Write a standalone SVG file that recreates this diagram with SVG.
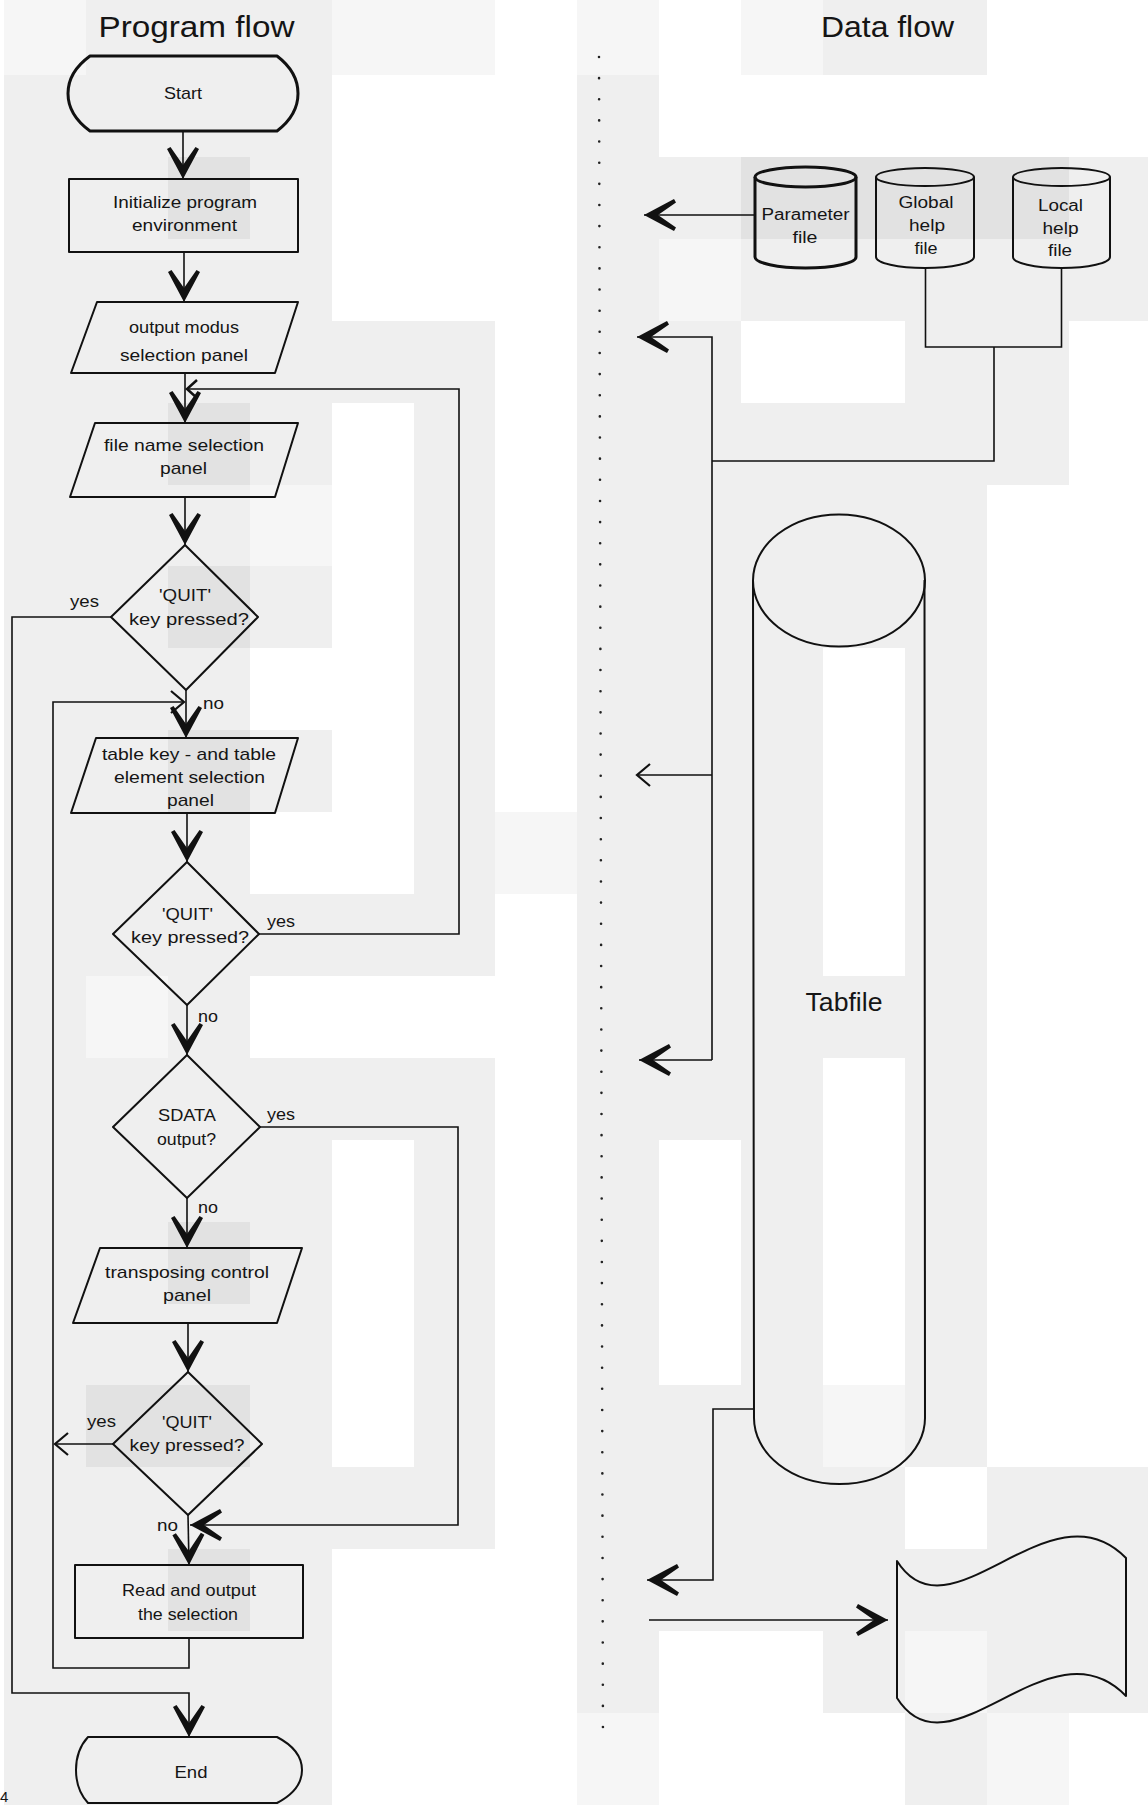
<svg xmlns="http://www.w3.org/2000/svg" width="1148" height="1805" viewBox="0 0 1148 1805">
<style>
.g{fill:#efefef}.d{fill:#e2e2e2}.l{fill:#f6f6f6}
.node{fill:none;stroke:#111;stroke-width:2;stroke-linejoin:round}
.thick{stroke-width:3}
.conn{fill:none;stroke:#111;stroke-width:1.6}
text{font-family:"Liberation Sans",Arial,Helvetica,sans-serif;fill:#151515}
.t{font-size:17px;text-anchor:middle}
.lab{font-size:17px}
.s{font-size:16px;text-anchor:middle}
.title{font-size:30px;text-anchor:middle}
.big{marker-end:url(#ah)}
.op{marker-end:url(#open)}
.ops{marker-end:url(#opens)}
</style>
<defs>
<marker id="ah" markerUnits="userSpaceOnUse" orient="auto" viewBox="-34 -18 36 36" markerWidth="36" markerHeight="36" refX="0" refY="0"><path d="M0,0 L-30,-16 L-32,-12.5 L-14,0 L-32,12.5 L-30,16 Z" fill="#111"/></marker>
<marker id="open" markerUnits="userSpaceOnUse" orient="auto" viewBox="-16 -14 18 28" markerWidth="18" markerHeight="28" refX="0" refY="0"><path d="M-13,-11 L0,0 L-13,11" fill="none" stroke="#111" stroke-width="2.2"/></marker>
<marker id="opens" markerUnits="userSpaceOnUse" orient="auto" viewBox="-13 -12 16 24" markerWidth="16" markerHeight="24" refX="0" refY="0"><path d="M-10,-9 L0,0 L-10,9" fill="none" stroke="#111" stroke-width="2.5"/></marker>
</defs>

<g id="background">
<rect class="l" x="4" y="0" width="82" height="75"/>
<rect class="g" x="86" y="0" width="246" height="75"/>
<rect class="l" x="332" y="0" width="163" height="75"/>
<rect class="l" x="577" y="0" width="82" height="75"/>
<rect class="l" x="741" y="0" width="82" height="75"/>
<rect class="g" x="823" y="0" width="164" height="75"/>
<rect class="g" x="4" y="75" width="328" height="1730"/>
<rect class="d" x="168" y="157" width="82" height="82"/>
<rect class="d" x="168" y="403" width="82" height="82"/>
<rect class="l" x="250" y="485" width="82" height="81"/>
<rect class="d" x="168" y="566" width="82" height="82"/>
<rect fill="#fff" x="250" y="648" width="82" height="82"/>
<rect class="d" x="168" y="730" width="82" height="82"/>
<rect fill="#fff" x="250" y="812" width="82" height="82"/>
<rect class="l" x="86" y="976" width="82" height="82"/>
<rect fill="#fff" x="250" y="976" width="82" height="82"/>
<rect class="d" x="168" y="1222" width="82" height="82"/>
<rect class="d" x="86" y="1385" width="164" height="82"/>
<rect class="d" x="168" y="1549" width="82" height="82"/>
<rect class="g" x="414" y="321" width="81" height="655"/>
<rect class="g" x="414" y="1058" width="81" height="491"/>
<rect class="g" x="332" y="321" width="82" height="82"/>
<rect class="g" x="332" y="894" width="82" height="82"/>
<rect class="g" x="332" y="1058" width="82" height="82"/>
<rect class="g" x="332" y="1467" width="82" height="82"/>
<rect class="l" x="495" y="812" width="82" height="82"/>
<rect class="g" x="577" y="75" width="82" height="1638"/>
<rect class="l" x="577" y="1713" width="82" height="92"/>
<rect class="g" x="659" y="157" width="82" height="82"/>
<rect class="l" x="659" y="239" width="82" height="82"/>
<rect class="g" x="659" y="321" width="82" height="819"/>
<rect class="g" x="659" y="1385" width="82" height="246"/>
<rect class="d" x="741" y="157" width="328" height="82"/>
<rect class="g" x="741" y="239" width="82" height="82"/>
<rect class="g" x="741" y="403" width="82" height="1228"/>
<rect class="g" x="823" y="239" width="82" height="82"/>
<rect class="g" x="823" y="403" width="82" height="245"/>
<rect class="g" x="823" y="976" width="82" height="82"/>
<rect class="l" x="823" y="1385" width="82" height="82"/>
<rect class="g" x="823" y="1467" width="82" height="246"/>
<rect class="g" x="905" y="239" width="82" height="1228"/>
<rect class="g" x="905" y="1549" width="82" height="82"/>
<rect class="l" x="905" y="1631" width="82" height="82"/>
<rect class="g" x="905" y="1713" width="82" height="92"/>
<rect class="g" x="987" y="239" width="82" height="246"/>
<rect class="g" x="987" y="1467" width="161" height="246"/>
<rect class="l" x="987" y="1713" width="82" height="92"/>
<rect class="g" x="1069" y="157" width="79" height="164"/>
</g>

<g id="divider">
<line x1="599" y1="57" x2="603" y2="1748" stroke="#222" stroke-width="2.6" stroke-dasharray="0 21.14" stroke-linecap="round"/>
</g>

<g id="titles">
<text class="title" x="196.5" y="37" textLength="196" lengthAdjust="spacingAndGlyphs">Program flow</text>
<text class="title" x="887.5" y="37" textLength="133" lengthAdjust="spacingAndGlyphs">Data flow</text>
<text x="0" y="1802" font-size="15">4</text>
</g>

<g id="connectors">
<path class="conn big" d="M183,131 L183,179"/>
<path class="conn big" d="M184,252 L184,302"/>
<path class="conn big" d="M185,373 L185,423"/>
<path class="conn ops" d="M259,934 L459,934 L459,389 L187,389"/>
<path class="conn big" d="M185,497 L185,545"/>
<path class="conn big" d="M111,617 L12,617 L12,1693 L189,1693 L189,1737"/>
<path class="conn big" d="M186,690 L186,738"/>
<path class="conn op" d="M189,1638 L189,1668 L53,1668 L53,702 L184,702"/>
<path class="conn big" d="M187,813 L187,862"/>
<path class="conn big" d="M187,1005 L187,1055"/>
<path class="conn big" d="M260,1127 L458,1127 L458,1525 L190,1525"/>
<path class="conn big" d="M187,1198 L187,1248"/>
<path class="conn big" d="M188,1323 L188,1372"/>
<path class="conn op" d="M113,1444 L55,1444"/>
<path class="conn big" d="M188,1515 L189,1565"/>
<path class="conn big" d="M755,215 L644,215"/>
<path class="conn" d="M925.5,268 L925.5,347 L1061.5,347 L1061.5,267"/>
<path class="conn" d="M994,347 L994,461 L712,461"/>
<path class="conn big" d="M712,1060 L712,337 L637,337"/>
<path class="conn op" d="M712,775 L637,775"/>
<path class="conn big" d="M712,1060 L639,1060"/>
<path class="conn big" d="M753,1409 L713,1409 L713,1580 L647,1580"/>
<path class="conn big" d="M649,1620 L888,1620"/>
<text class="lab" x="70" y="607" textLength="29" lengthAdjust="spacingAndGlyphs">yes</text>
<text class="lab" x="203" y="709" textLength="21" lengthAdjust="spacingAndGlyphs">no</text>
<text class="lab" x="267" y="927" textLength="28" lengthAdjust="spacingAndGlyphs">yes</text>
<text class="lab" x="198" y="1022" textLength="20" lengthAdjust="spacingAndGlyphs">no</text>
<text class="lab" x="267" y="1120" textLength="28" lengthAdjust="spacingAndGlyphs">yes</text>
<text class="lab" x="198" y="1213" textLength="20" lengthAdjust="spacingAndGlyphs">no</text>
<text class="lab" x="87" y="1427" textLength="29" lengthAdjust="spacingAndGlyphs">yes</text>
<text class="lab" x="157" y="1531" textLength="21" lengthAdjust="spacingAndGlyphs">no</text>
</g>

<g id="start">
<path class="node thick" d="M90,56 L277,56 Q298,72 298,93.5 Q298,115 277,131 L90,131 Q68,115 68,93.5 Q68,72 90,56 Z"/>
<text class="t" x="183" y="99" font-size="18" textLength="38" lengthAdjust="spacingAndGlyphs">Start</text>
</g>
<g id="init">
<rect class="node" x="69" y="179" width="229" height="73"/>
<text class="t" x="185" y="208" textLength="144" lengthAdjust="spacingAndGlyphs">Initialize program</text>
<text class="t" x="184.5" y="231" textLength="105" lengthAdjust="spacingAndGlyphs">environment</text>
</g>
<g id="output-modus">
<path class="node" d="M97,302 L298,302 L275,373 L71,373 Z"/>
<text class="t" x="184" y="333" textLength="110" lengthAdjust="spacingAndGlyphs">output modus</text>
<text class="t" x="184" y="361" textLength="128" lengthAdjust="spacingAndGlyphs">selection panel</text>
</g>
<g id="file-name">
<path class="node" d="M95,423 L298,423 L275,497 L70,497 Z"/>
<text class="t" x="184" y="451" textLength="160" lengthAdjust="spacingAndGlyphs">file name selection</text>
<text class="t" x="183.5" y="474" textLength="47" lengthAdjust="spacingAndGlyphs">panel</text>
</g>
<g id="quit1">
<path class="node" d="M185,545 L258,617 L186,690 L111,617 Z"/>
<text class="t" x="185" y="601" textLength="52" lengthAdjust="spacingAndGlyphs">'QUIT'</text>
<text class="t" x="189" y="625" textLength="120" lengthAdjust="spacingAndGlyphs">key pressed?</text>
</g>
<g id="table-key">
<path class="node" d="M96,738 L298,738 L275,813 L71,813 Z"/>
<text class="t" x="189" y="760" textLength="174" lengthAdjust="spacingAndGlyphs">table key - and table</text>
<text class="t" x="189.5" y="783" textLength="151" lengthAdjust="spacingAndGlyphs">element selection</text>
<text class="t" x="190.5" y="806" textLength="47" lengthAdjust="spacingAndGlyphs">panel</text>
</g>
<g id="quit2">
<path class="node" d="M187,862 L259,934 L187,1005 L113,934 Z"/>
<text class="t" x="187.5" y="920" textLength="51" lengthAdjust="spacingAndGlyphs">'QUIT'</text>
<text class="t" x="190" y="943" textLength="118" lengthAdjust="spacingAndGlyphs">key pressed?</text>
</g>
<g id="sdata">
<path class="node" d="M187,1055 L260,1127 L187,1198 L113,1127 Z"/>
<text class="t" x="187" y="1121" textLength="58" lengthAdjust="spacingAndGlyphs">SDATA</text>
<text class="t" x="186.5" y="1145" textLength="59" lengthAdjust="spacingAndGlyphs">output?</text>
</g>
<g id="transposing">
<path class="node" d="M100,1248 L302,1248 L277,1323 L73,1323 Z"/>
<text class="t" x="187" y="1278" textLength="164" lengthAdjust="spacingAndGlyphs">transposing control</text>
<text class="t" x="187" y="1301" textLength="48" lengthAdjust="spacingAndGlyphs">panel</text>
</g>
<g id="quit3">
<path class="node" d="M188,1372 L262,1444 L188,1515 L113,1444 Z"/>
<text class="t" x="187" y="1428" textLength="50" lengthAdjust="spacingAndGlyphs">'QUIT'</text>
<text class="t" x="187" y="1451" textLength="115" lengthAdjust="spacingAndGlyphs">key pressed?</text>
</g>
<g id="read-output">
<rect class="node" x="75" y="1565" width="228" height="73"/>
<text class="t" x="189" y="1596" textLength="134" lengthAdjust="spacingAndGlyphs">Read and output</text>
<text class="t" x="188" y="1620" textLength="100" lengthAdjust="spacingAndGlyphs">the selection</text>
</g>
<g id="end">
<path class="node" d="M88,1737 L277,1737 Q302,1750 302,1770 Q302,1790 277,1803 L88,1803 Q76,1790 76,1770 Q76,1750 88,1737 Z"/>
<text class="t" x="191" y="1778" font-size="18" textLength="33" lengthAdjust="spacingAndGlyphs">End</text>
</g>

<g id="parameter-file">
<path class="node thick" d="M755,177 L755,257 A50.5,11 0 0 0 856,257 L856,177"/>
<ellipse class="node thick" cx="805.5" cy="177" rx="50.5" ry="10"/>
<text class="s" x="805.5" y="220" textLength="88" lengthAdjust="spacingAndGlyphs">Parameter</text>
<text class="s" x="805" y="243" textLength="25" lengthAdjust="spacingAndGlyphs">file</text>
</g>
<g id="global-help-file">
<path class="node" d="M876,177 L876,257 A49,11 0 0 0 974,257 L974,177"/>
<ellipse class="node" cx="925" cy="177" rx="49" ry="9"/>
<text class="s" x="926" y="208" textLength="55" lengthAdjust="spacingAndGlyphs">Global</text>
<text class="s" x="927" y="231" textLength="36" lengthAdjust="spacingAndGlyphs">help</text>
<text class="s" x="926" y="254" textLength="23" lengthAdjust="spacingAndGlyphs">file</text>
</g>
<g id="local-help-file">
<path class="node" d="M1013,177 L1013,257 A48.5,11 0 0 0 1110,257 L1110,177"/>
<ellipse class="node" cx="1061.5" cy="177" rx="48.5" ry="9"/>
<text class="s" x="1060.5" y="211" textLength="45" lengthAdjust="spacingAndGlyphs">Local</text>
<text class="s" x="1060.5" y="234" textLength="36" lengthAdjust="spacingAndGlyphs">help</text>
<text class="s" x="1060" y="256" textLength="24" lengthAdjust="spacingAndGlyphs">file</text>
</g>
<g id="tabfile">
<path class="node" stroke-width="2.8" d="M753,580 L754,1418 A85.5,66 0 0 0 925,1418 L924.5,580"/>
<ellipse class="node" cx="839" cy="580.5" rx="86" ry="66"/>
<text x="844" y="1011" font-size="26" text-anchor="middle" textLength="77" lengthAdjust="spacingAndGlyphs">Tabfile</text>
</g>
<g id="output-tape">
<path class="node" d="M897,1561 C950,1645 1050,1480 1126,1558 L1126,1696 C1050,1617 950,1782 897,1698 Z"/>
</g>
</svg>
